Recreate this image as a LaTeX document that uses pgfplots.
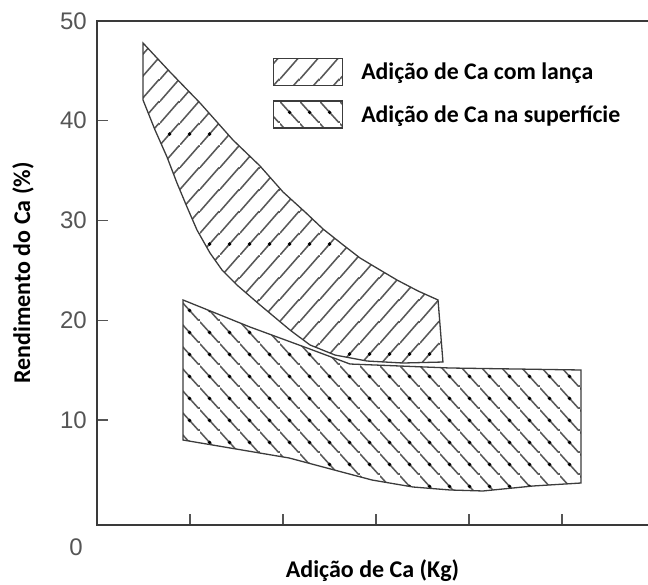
\documentclass[border=0pt]{standalone}
\usepackage{fontspec}
\setmainfont{Carlito}
\newfontfamily\arialf{Liberation Sans}
\usepackage{pgfplots}
\pgfplotsset{compat=1.18}
\usepackage{pgfplotstable}
\usetikzlibrary{patterns.meta}

\definecolor{outl}{HTML}{3C3C3C}
\definecolor{hatchc}{HTML}{585858}
\definecolor{axisc}{HTML}{3A3A3A}
\definecolor{tickc}{HTML}{555555}

\tikzdeclarepattern{
  name=hatchA, type=colored,
  bottom left={(0bp,0bp)}, top right={(20bp,110bp)},
  tile size={(20bp,110bp)},
  code={
    \draw[hatchc, line width=1.6bp] (0bp,0bp) -- (20bp,22bp)
      (0bp,22bp) -- (20bp,44bp) (0bp,44bp) -- (20bp,66bp)
      (0bp,66bp) -- (20bp,88bp) (0bp,88bp) -- (20bp,110bp);
    \fill[black] (10bp,11bp) circle (2bp);
  }
}
\tikzdeclarepattern{
  name=hatchB, type=colored,
  bottom left={(0bp,0bp)}, top right={(20bp,22bp)},
  tile size={(20bp,22bp)},
  code={
    \draw[hatchc, line width=1.6bp] (0bp,22bp) -- (20bp,0bp);
    \fill[black] (10bp,11bp) circle (2bp);
  }
}

\pgfplotstableread{
x y
0.495 47.79
0.785 44.89
1.108 41.78
1.462 38.07
1.753 35.46
2.000 32.86
2.237 30.85
2.430 29.15
2.634 27.64
2.828 26.24
3.043 25.04
3.226 24.03
3.452 22.93
3.667 22.03
3.720 15.81
3.290 15.71
2.903 15.91
2.559 16.51
2.290 17.52
2.075 19.02
1.753 21.53
1.505 23.53
1.344 25.04
1.215 26.74
1.075 29.05
0.968 31.35
0.860 33.76
0.753 36.36
0.624 39.07
0.495 42.08
}\lanca

\pgfplotstableread{
x y
0.925 22.03
1.645 19.32
2.258 17.22
2.720 15.61
3.796 15.21
5.204 15.01
5.204 3.68
4.688 3.38
4.151 2.88
3.796 2.98
3.398 3.28
2.957 3.98
2.065 6.19
0.925 7.99
}\superf

\begin{document}
\begin{tikzpicture}
\begin{axis}[
  scale only axis, width=551bp, height=504bp,
  xmin=0, xmax=5.9247, ymin=-0.53, ymax=50,
  axis line style={draw=none},
  xtick={1,2,3,4,5}, xticklabels={,,,,},
  ytick={10,20,30,40,50},
  tick align=inside, tick pos=left,
  major tick length=11bp,
  tick style={tickc, line width=1.3bp},
  /pgf/number format/assume math mode=true,
  yticklabel style={font=\arialf\fontsize{24bp}{28bp}\selectfont, text=tickc, inner sep=0pt, xshift=-10bp},
  xlabel={Adição de Ca (Kg)},
  ylabel={Rendimento do Ca (\%)},
  label style={font=\fontsize{24bp}{28bp}\selectfont\bfseries},
  xlabel style={at={(rel axis cs:0.5,-0.0905)}, anchor=center},
  ylabel style={at={(rel axis cs:-0.1343,0.5)}, anchor=center},
  clip=false,
  legend image code/.code={\draw[#1] (0bp,-13.5bp) rectangle (69bp,13.5bp); \path (87bp,0bp);},
  legend cell align=left,
  legend style={at={(0.3194,0.9266)}, anchor=north west, draw=none, fill=none,
    inner sep=0pt, outer sep=0pt, row sep=14bp,
    font=\fontsize{23.8bp}{28bp}\selectfont\bfseries, nodes={inner sep=0pt}},
]
\addplot[draw=outl, line width=1.3bp, pattern=hatchB, mark=none, forget plot] table {\superf} -- cycle;
\addplot[draw=outl, line width=1.3bp, pattern=hatchA, mark=none, forget plot] table {\lanca} -- cycle;

\addlegendimage{draw=outl, line width=1.3bp, pattern=hatchA}
\addlegendentry{Adição de Ca com lança}
\addlegendimage{draw=outl, line width=1.3bp, pattern=hatchB}
\addlegendentry{Adição de Ca na superfície}

\draw[axisc, line width=1.6bp] (rel axis cs:1,1) -- (rel axis cs:0,1) -- (rel axis cs:0,0) -- (rel axis cs:1,0);
\node[font=\arialf\fontsize{24bp}{28bp}\selectfont, text=tickc, anchor=east, inner sep=0pt] at (axis cs:-0.1505,-2.74) {0};
\end{axis}
\pgfresetboundingbox
\path (-97bp,-60bp) rectangle (551bp,525bp);
\end{tikzpicture}
\end{document}
